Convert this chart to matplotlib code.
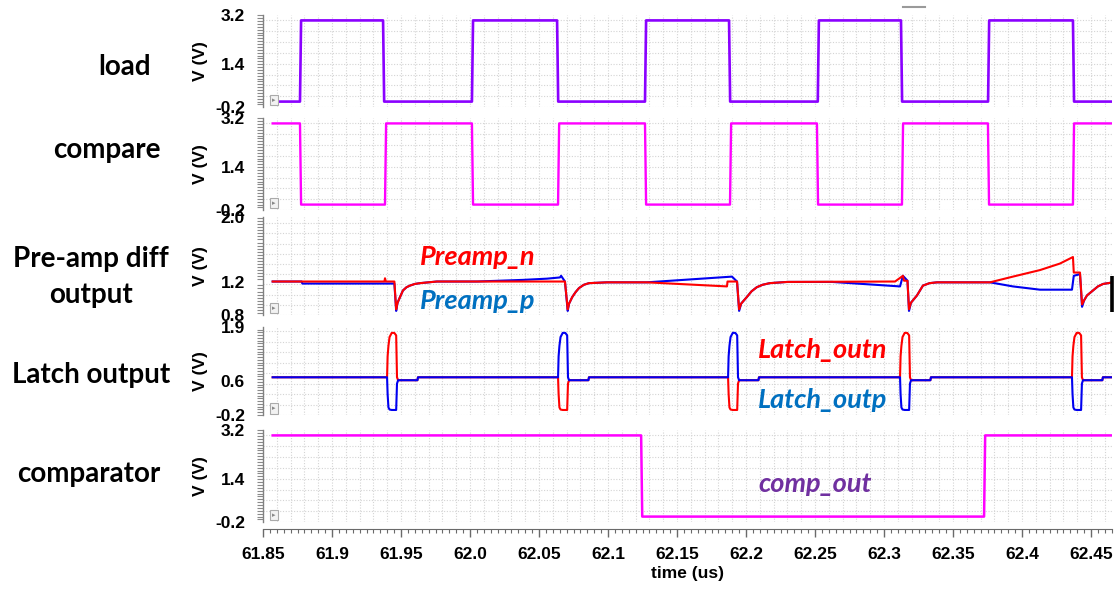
import numpy as np
import matplotlib.pyplot as plt
from matplotlib.lines import Line2D
from matplotlib.ticker import FixedLocator, FixedFormatter, MultipleLocator, FuncFormatter

W, H = 1117, 590

# time window of the transient (us)
T_START, T_END = 61.857, 62.466
EDGE = 0.0008

# clock edges (us)
load_rise = [61.8768, 62.0014, 62.1268, 62.2520, 62.3754]
load_fall = [61.9370, 62.0631, 62.1877, 62.3123, 62.4369]
compare_fall = [61.8768, 62.0014, 62.1268, 62.2514, 62.3753]
compare_rise = [61.9384, 62.0638, 62.1884, 62.3130, 62.4369]
comp_out_fall = [62.1240]
comp_out_rise = [62.3725]
V_HIGH, V_LOW = 3.0, 0.0

# pre-amp differential outputs (breakpoints)
preamp_n_t = [61.857, 61.9380, 61.9384, 61.9390, 61.9452, 61.9465, 61.9475, 61.9493, 61.9514, 61.9540,
              61.9565, 61.9600, 61.9638, 61.9760,
              62.0660, 62.0688, 62.0708, 62.0718, 62.0741, 62.0765, 62.0790, 62.0825, 62.0862, 62.0993,
              62.1282, 62.1862, 62.1866, 62.1935, 62.1950, 62.1965, 62.2006, 62.2040, 62.2078, 62.2120,
              62.2172, 62.2300,
              62.3080, 62.3137, 62.3145, 62.3170, 62.3181, 62.3195, 62.3239, 62.3282, 62.3330, 62.3384,
              62.3768, 62.3934, 62.4130, 62.4275, 62.4369, 62.4375, 62.4420, 62.4435, 62.4450, 62.4471,
              62.4514, 62.4550, 62.4587, 62.4660]
preamp_n_v = [1.21, 1.21, 1.25, 1.21, 1.21, 0.87, 0.95, 1.02, 1.10, 1.14,
              1.16, 1.18, 1.19, 1.21,
              1.21, 1.21, 0.87, 0.94, 1.02, 1.08, 1.13, 1.17, 1.19, 1.20,
              1.20, 1.15, 1.21, 1.21, 0.87, 0.94, 1.02, 1.09, 1.14, 1.17,
              1.19, 1.205,
              1.21, 1.28, 1.22, 1.22, 0.87, 0.95, 1.04, 1.16, 1.19, 1.20,
              1.20, 1.27, 1.35, 1.43, 1.51, 1.32, 1.32, 0.93, 0.98, 1.04,
              1.10, 1.15, 1.18, 1.20]

preamp_p_t = [61.857, 61.8780, 61.8785, 61.9452, 61.9465, 61.9475, 61.9493, 61.9514, 61.9540, 61.9565,
              61.9600, 61.9638, 61.9760,
              62.0050, 62.0384, 62.0558, 62.0652, 62.0660, 62.0688, 62.0708, 62.0718, 62.0741, 62.0765,
              62.0790, 62.0825, 62.0862, 62.0993,
              62.1282, 62.1898, 62.1935, 62.1950, 62.1965, 62.2006, 62.2040, 62.2078, 62.2120, 62.2172, 62.2300,
              62.2623, 62.3116, 62.3137, 62.3170, 62.3181, 62.3195, 62.3239, 62.3282, 62.3330, 62.3384,
              62.3768, 62.3934, 62.4130, 62.4362, 62.4375, 62.4420, 62.4435, 62.4450, 62.4471, 62.4514,
              62.4550, 62.4587, 62.4660]
preamp_p_v = [1.21, 1.21, 1.185, 1.185, 0.85, 0.95, 1.02, 1.10, 1.14, 1.16,
              1.18, 1.19, 1.21,
              1.21, 1.23, 1.245, 1.26, 1.28, 1.21, 0.85, 0.94, 1.02, 1.08,
              1.13, 1.17, 1.19, 1.20,
              1.20, 1.27, 1.21, 0.85, 0.94, 1.02, 1.09, 1.14, 1.17, 1.19, 1.205,
              1.205, 1.15, 1.28, 1.22, 0.85, 0.95, 1.04, 1.16, 1.19, 1.20,
              1.20, 1.15, 1.11, 1.11, 1.28, 1.30, 0.90, 0.98, 1.04, 1.10,
              1.15, 1.18, 1.20]

# latch regeneration events: start time and which output swings high
latch_event_t = [61.9399, 62.0638, 62.1870, 62.3116, 62.4362]
latch_n_high = [True, False, False, True, True]
LATCH_MID = 0.70
spike_dt = [0.0, 0.0004, 0.0010, 0.0018, 0.0034, 0.0052, 0.0066, 0.0072, 0.0080, 0.0220, 0.0224]
spike_hi = [0.70, 1.20, 1.45, 1.66, 1.76, 1.76, 1.70, 0.70, 0.63, 0.63, 0.70]
spike_lo = [0.70, 0.30, -0.02, -0.07, -0.08, -0.08, -0.08, 0.55, 0.63, 0.63, 0.70]

# colours
C_LOAD = '#8a00ff'
C_MAG = '#ff00ff'
C_RED = '#ff0000'
C_BLUE = '#0000f0'


def square_wave(v0, rises, falls):
    edges = sorted([(t, V_HIGH) for t in rises] + [(t, V_LOW) for t in falls])
    t, v = [T_START], [v0]
    for te, lvl in edges:
        t += [te, te + EDGE]
        v += [v[-1], lvl]
    t.append(T_END)
    v.append(v[-1])
    return t, v


def latch_trace(goes_high):
    t, v = [T_START], [LATCH_MID]
    for te, up in zip(latch_event_t, goes_high):
        t += [te + d for d in spike_dt]
        v += spike_hi if up else spike_lo
    t.append(T_END)
    v.append(LATCH_MID)
    return t, v


plt.rcParams.update({
    'font.family': ['Liberation Sans', 'DejaVu Sans'],
    'font.weight': 'bold',
    'font.size': 12.5,
})

fig = plt.figure(figsize=(W / 100, H / 100), dpi=100)


def px(x, y):
    return x / W, 1 - y / H


# (top px, bottom px, ylim, labelled ticks, grid step)
panels = [
    (15, 107, (-0.2, 3.2), [-0.2, 1.4, 3.2], ['-0.2', '1.4', '3.2'], 0.4),
    (118, 210, (-0.2, 3.2), [-0.2, 1.4, 3.2], ['-0.2', '1.4', '3.2'], 0.4),
    (217, 315, (0.8, 2.0), [0.8, 1.2, 2.0], ['0.8', '1.2', '2.0'], 0.125),
    (327, 415, (-0.2, 1.9), [-0.2, 0.6, 1.9], ['-0.2', '0.6', '1.9'], 0.25),
    (430, 522, (-0.2, 3.2), [-0.2, 1.4, 3.2], ['-0.2', '1.4', '3.2'], 0.4),
]

axes = []
for i, (top, bot, ylim, ticks, labels, gstep) in enumerate(panels):
    ax = fig.add_axes([263 / W, 1 - bot / H, 849 / W, (bot - top) / H])
    ax.set_xlim(61.85, 62.4652)
    ax.set_ylim(*ylim)
    for s in ['top', 'right', 'bottom']:
        ax.spines[s].set_visible(False)
    ax.spines['left'].set_color('#808080')
    ax.spines['left'].set_linewidth(1.0)

    ax.yaxis.set_major_locator(FixedLocator(ticks))
    ax.yaxis.set_major_formatter(FixedFormatter(labels))
    ax.yaxis.set_minor_locator(MultipleLocator((ylim[1] - ylim[0]) / 32))
    ax.tick_params(axis='y', which='major', length=0, pad=13, labelsize=12.5)
    ax.tick_params(axis='y', which='minor', length=4, width=0.8, color='#8a8a8a', direction='out')
    ax.set_ylabel('V (V)', fontsize=12.5, fontweight='bold')
    ax.yaxis.set_label_coords(-0.065, 0.5)

    # dotted background grid
    for g in np.arange(ylim[0], ylim[1] + 1e-9, gstep):
        ax.axhline(g, color='#d4d4d4', lw=0.8, ls=(0, (1, 1.5)), zorder=0)
    for g in np.arange(61.86, 62.466, 0.01):
        ax.axvline(g, color='#d4d4d4', lw=0.8, ls=(0, (1, 1.5)), zorder=0)

    ax.tick_params(axis='x', which='both', bottom=False, labelbottom=False)

    # small expand box in the corner of each strip
    ax.text(0.011, 0.04, '\u25b8', transform=ax.transAxes, fontsize=5, color='#888888',
            family=['DejaVu Sans'], ha='left', va='bottom',
            bbox=dict(boxstyle='square,pad=0.3', fc='#f2f2f2', ec='#aaaaaa', lw=0.8))
    axes.append(ax)

ax_load, ax_cmp, ax_pre, ax_latch, ax_out = axes

t, v = square_wave(V_LOW, load_rise, load_fall)
ax_load.plot(t, v, color=C_LOAD, lw=1.9)

t, v = square_wave(V_HIGH, compare_rise, compare_fall)
ax_cmp.plot(t, v, color=C_MAG, lw=1.7)

ax_pre.plot(preamp_p_t, preamp_p_v, color=C_BLUE, lw=1.5)
ax_pre.plot(preamp_n_t, preamp_n_v, color=C_RED, lw=1.5)
# marker bar on the right edge of the pre-amp strip
ax_pre.plot([1.0, 1.0], [0.03, 0.40], transform=ax_pre.transAxes, color='black',
            lw=2.6, clip_on=False, solid_capstyle='butt')

t, v = latch_trace(latch_n_high)
ax_latch.plot(t, v, color=C_RED, lw=1.5)
t, v = latch_trace([not f for f in latch_n_high])
ax_latch.plot(t, v, color=C_BLUE, lw=1.5)

t, v = square_wave(V_HIGH, comp_out_rise, comp_out_fall)
ax_out.plot(t, v, color=C_MAG, lw=1.8)

# time axis on the bottom strip only
ax_out.spines['bottom'].set_visible(True)
ax_out.spines['bottom'].set_position(('outward', 5))
ax_out.spines['bottom'].set_color('#6a6a6a')
ax_out.xaxis.set_major_locator(MultipleLocator(0.05))
ax_out.xaxis.set_minor_locator(MultipleLocator(0.005))


def time_fmt(x, pos):
    s = f'{x:.2f}'.rstrip('0')
    return s + '0' if s.endswith('.') else s


ax_out.xaxis.set_major_formatter(FuncFormatter(time_fmt))
ax_out.tick_params(axis='x', which='major', bottom=True, labelbottom=True, length=6,
                   width=1.0, color='#6a6a6a', pad=7, labelsize=12.5)
ax_out.tick_params(axis='x', which='minor', bottom=True, length=3, width=0.8, color='#6a6a6a')
ax_out.set_xlabel('time (us)', fontsize=12.5, fontweight='bold', labelpad=3)

# strip names
title_kw = dict(ha='center', va='baseline', fontsize=20, family=['Lato', 'DejaVu Sans'], fontweight='bold')
fig.text(*px(125, 75), 'load', **title_kw)
fig.text(*px(107, 158), 'compare', **title_kw)
fig.text(*px(91, 267), 'Pre-amp diff', **title_kw)
fig.text(*px(91, 303), 'output', **title_kw)
fig.text(*px(91, 383), 'Latch output', **title_kw)
fig.text(*px(89, 482), 'comparator', **title_kw)

# signal names
sig_kw = dict(ha='left', va='baseline', fontsize=19.5, family=['Lato', 'DejaVu Sans'],
              fontweight='bold', style='italic')
fig.text(*px(420, 265), 'Preamp_n', color=C_RED, **sig_kw)
fig.text(*px(420, 309), 'Preamp_p', color='#0070c0', **sig_kw)
fig.text(*px(758, 358), 'Latch_outn', color=C_RED, **sig_kw)
fig.text(*px(758, 408), 'Latch_outp', color='#0070c0', **sig_kw)
fig.text(*px(758, 492), 'comp_out', color='#7030a0', **sig_kw)

fig.add_artist(Line2D([903 / W, 925 / W], [1 - 7 / H, 1 - 7 / H], color='#9a9a9a', lw=1.5))

fig.savefig('out.png', dpi=100)
